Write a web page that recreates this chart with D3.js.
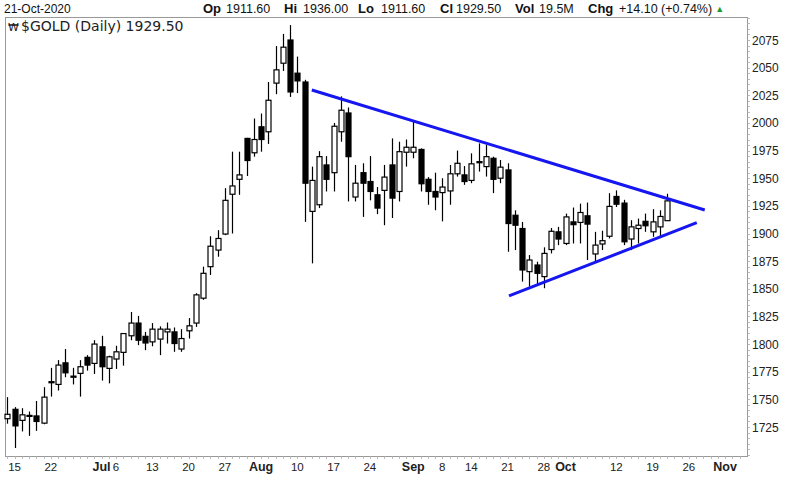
<!DOCTYPE html>
<html><head><meta charset="utf-8">
<script src="https://cdn.jsdelivr.net/npm/d3@7"></script>
<style>body{margin:0;background:#fff;} svg{display:block}</style>
</head><body><svg id="c" width="806" height="485"></svg>
<script>
// ---- data ----
const startDate = "2020-06-12";
const holidays = ["2020-07-03", "2020-09-07"];
const open  = [1732.5,1741,1731,1735,1735,1728.5,1765,1763.5,1783,1770,1773.5,1788,1782.5,1797.5,1778,1786.5,1792.5,1807.5,1819,1807,1802,1804.5,1811,1811,1795.5,1812,1819,1841.5,1870,1885,1899.5,1935.5,1949,1986,1973,1996.5,1992,2036,2054,2075,2045,2037,1920,1926,1962,1955,1992,2009,1933,1955,1947,1935,1939,1962,1938,1973.5,1973.5,1976,1949,1938,1937,1938.5,1954,1953,1948,1964,1960.5,1968,1950,1957.5,1916.5,1904.5,1865.5,1871.5,1861,1885.5,1901.5,1891,1910.5,1910,1916,1881.5,1890.5,1897.5,1933.5,1927.5,1895,1904.5,1911,1901.5,1906,1911.6];
const high  = [1752,1743,1742,1739,1748.5,1761,1778.5,1785.5,1795.5,1778.5,1785.5,1790,1803.5,1807.5,1789.5,1798.5,1810,1829,1825.5,1811,1819,1816,1819.5,1815,1813.5,1823.5,1846,1870,1897.5,1903,1941,1974,1974,1986.5,2004,2008.5,2037,2069.5,2080.5,2088.5,2060,2039,1960.5,1974.5,1970,2000,2024,2014,1962,1963.5,1970,1942,1962,1986,1983,1985,2001,1977,1951,1955,1950,1962,1975,1961,1972.5,1981.5,1980,1969.5,1966.5,1963.5,1921,1910.5,1880.5,1874.5,1887.5,1905,1906,1918,1923.5,1927,1928,1901.5,1902.5,1936.5,1939,1930.5,1912,1913.5,1918,1922,1921,1936];
const low   = [1728,1706,1721,1717,1721.5,1727.5,1752.5,1758,1770,1763.5,1752.5,1776,1773,1767,1764.5,1777.5,1780.5,1803.5,1799,1794.5,1798,1790,1800.5,1793,1793,1805,1815.5,1840,1862.5,1879,1898.5,1900,1935,1952,1969.5,1974,1981,2026,2047,2023.5,2027,1910.5,1873,1923,1938,1938,1983,1929,1929,1915,1930,1917.5,1907.5,1914,1929,1960.5,1968,1938,1926,1921,1911,1926,1951.5,1944,1945.5,1956,1951.5,1936.5,1945.5,1883.5,1885,1856.5,1852,1853.5,1850.5,1882,1889.5,1889.5,1891,1891,1876,1874.5,1885,1895.5,1924,1889.5,1885,1891,1901.5,1897,1897.5,1911.6];
const close = [1736.5,1726,1736,1735.5,1730,1752,1766,1781,1774,1771,1779.5,1781,1800,1779.5,1788.5,1793,1809.5,1819,1803.5,1801,1813.5,1813.5,1813.5,1800.5,1805,1816.5,1844.5,1864,1888.5,1895.5,1930,1943,1953,1966,1985,1985,2020.5,2048,2068.5,2028,2038,1945.5,1948,1969.5,1949,1997,2011.5,1969.5,1945.5,1945.5,1938,1923,1951,1932,1974,1978,1978,1945,1938,1933,1942,1954,1963.5,1947,1963,1965,1969.5,1949,1960,1909,1907.5,1867,1876,1864,1882,1902,1895,1915,1908,1919,1908.5,1889.5,1893.5,1924.5,1926.5,1892.5,1906,1907.5,1907,1910.5,1915.4,1929.5];
const yTicks = [1725,1750,1775,1800,1825,1850,1875,1900,1925,1950,1975,2000,2025,2050,2075];
const xTickDates  = ["2020-06-15","2020-06-22","2020-07-01","2020-07-06","2020-07-13","2020-07-20","2020-07-27","2020-08-03","2020-08-10","2020-08-17","2020-08-24","2020-09-01","2020-09-08","2020-09-14","2020-09-21","2020-09-28","2020-10-01","2020-10-12","2020-10-19","2020-10-26","2020-11-02"];
const xTickLabels = ["15","22","Jul","6","13","20","27","Aug","10","17","24","Sep","8","14","21","28","Oct","12","19","26","Nov"];
const monthNames  = ["Jul","Aug","Sep","Oct","Nov"];
const upperIdx = [42, 96.2],  upperPrice = [2029.8, 1921.3];
const lowerIdx = [69.2, 95.1], lowerPrice = [1843.5, 1909.8];
const headerDate = "21-Oct-2020";
const headerLabels = ["Op","Hi","Lo","Cl","Vol","Chg"];
const headerValues = ["1911.60","1936.00","1911.60","1929.50","19.5M","+14.10 (+0.74%)"];
const legendText = "$GOLD (Daily) 1929.50";

// ---- trading calendar ----
const days = [];
{
  let t = Date.UTC(2020, 5, 12);
  while (days.length < 110) {
    const d = new Date(t); const wd = d.getUTCDay(); const s = d.toISOString().slice(0, 10);
    if (wd > 0 && wd < 6 && !holidays.includes(s)) days.push(s);
    t += 86400000;
  }
}
const idx = s => days.indexOf(s);

const svg = d3.select("#c");
const x = d3.scaleLinear().domain([0, 100]).range([7.3, 732.3]);
const y = d3.scaleLinear().domain([1725, 2075]).range([427, 40]);
const frame = {l: 5.5, t: 17.5, r: 747.5, b: 456.5};

// header
const hdr = svg.append("g").attr("font-family", "Liberation Sans, Arial, sans-serif").attr("fill", "#111");
hdr.append("text").attr("x", 4).attr("y", 13).attr("font-size", 12).text(headerDate);
const labX = [203, 284, 358, 440, 515, 588];
const valX = [226, 303, 381, 456, 539, 619];
let lastText;
headerLabels.forEach((l, i) => {
  hdr.append("text").attr("x", labX[i]).attr("y", 13).attr("font-size", 13).attr("font-weight", "bold").text(l);
  lastText = hdr.append("text").attr("x", valX[i]).attr("y", 13).attr("font-size", 12.5).text(headerValues[i]);
});
const endX = valX[valX.length - 1] + lastText.node().getComputedTextLength();
hdr.append("text").attr("x", endX + 3).attr("y", 12).attr("font-size", 9).attr("fill", "#1a9a2a").text("▲");

// frame
svg.append("rect").attr("x", frame.l).attr("y", frame.t).attr("width", frame.r - frame.l).attr("height", frame.b - frame.t)
  .attr("fill", "#fff").attr("stroke", "#999").attr("stroke-width", 1);

// legend
svg.append("text").attr("x", 8).attr("y", 31).attr("font-family", "DejaVu Sans, sans-serif").attr("font-size", 11).attr("fill", "#222").text("₩");
svg.append("text").attr("x", 21).attr("y", 31).attr("font-family", "DejaVu Sans, sans-serif").attr("font-size", 14).attr("fill", "#222").text(legendText);

// right axis
const minor = d3.range(1700, 2096, 5);
svg.append("g").selectAll("line").data(minor).join("line")
  .attr("x1", frame.r).attr("x2", frame.r + 2.5)
  .attr("y1", d => Math.round(y(d)) + 0.5).attr("y2", d => Math.round(y(d)) + 0.5)
  .attr("stroke", "#bbb");
svg.append("g").selectAll("text").data(yTicks).join("text")
  .attr("x", 752).attr("y", d => y(d) + 4.5)
  .attr("font-family", "Liberation Sans, Arial, sans-serif").attr("font-size", 12).attr("fill", "#222")
  .text(d => d);

// bottom axis
svg.append("g").selectAll("line").data(d3.range(0, 102)).join("line")
  .attr("x1", d => Math.round(x(d)) + 0.5).attr("x2", d => Math.round(x(d)) + 0.5)
  .attr("y1", frame.b).attr("y2", frame.b + 2.5).attr("stroke", "#bbb");
svg.append("g").selectAll("text").data(xTickLabels).join("text")
  .attr("x", (d, i) => x(idx(xTickDates[i])))
  .attr("y", 471).attr("text-anchor", "middle")
  .attr("font-family", "Liberation Sans, Arial, sans-serif")
  .attr("font-size", d => monthNames.includes(d) ? 12.5 : 11.5)
  .attr("font-weight", d => monthNames.includes(d) ? "bold" : "normal")
  .attr("fill", "#222").text(d => d);

// candles
const data = open.map((o, i) => ({i, o, h: high[i], l: low[i], c: close[i]}));
const cg = svg.append("g");
const cs = cg.selectAll("g").data(data).join("g");
cs.append("line")
  .attr("x1", d => Math.round(x(d.i)) + 0.5).attr("x2", d => Math.round(x(d.i)) + 0.5)
  .attr("y1", d => y(d.h)).attr("y2", d => y(d.l))
  .attr("stroke", "#000").attr("stroke-width", 1.2);
cs.append("rect")
  .attr("x", d => Math.round(x(d.i)) - 2)
  .attr("y", d => y(Math.max(d.o, d.c)))
  .attr("width", 5)
  .attr("height", d => Math.max(1, Math.abs(y(d.o) - y(d.c))))
  .attr("fill", d => d.c >= d.o ? "#fff" : "#000")
  .attr("stroke", "#000").attr("stroke-width", 1.2);

// trendlines
const tl = d3.line().x(d => x(d[0])).y(d => y(d[1]));
svg.append("path").attr("d", tl(upperIdx.map((v, i) => [v, upperPrice[i]])))
  .attr("stroke", "#1616f0").attr("stroke-width", 3).attr("fill", "none");
svg.append("path").attr("d", tl(lowerIdx.map((v, i) => [v, lowerPrice[i]])))
  .attr("stroke", "#1616f0").attr("stroke-width", 3).attr("fill", "none");
</script>
</body></html>
